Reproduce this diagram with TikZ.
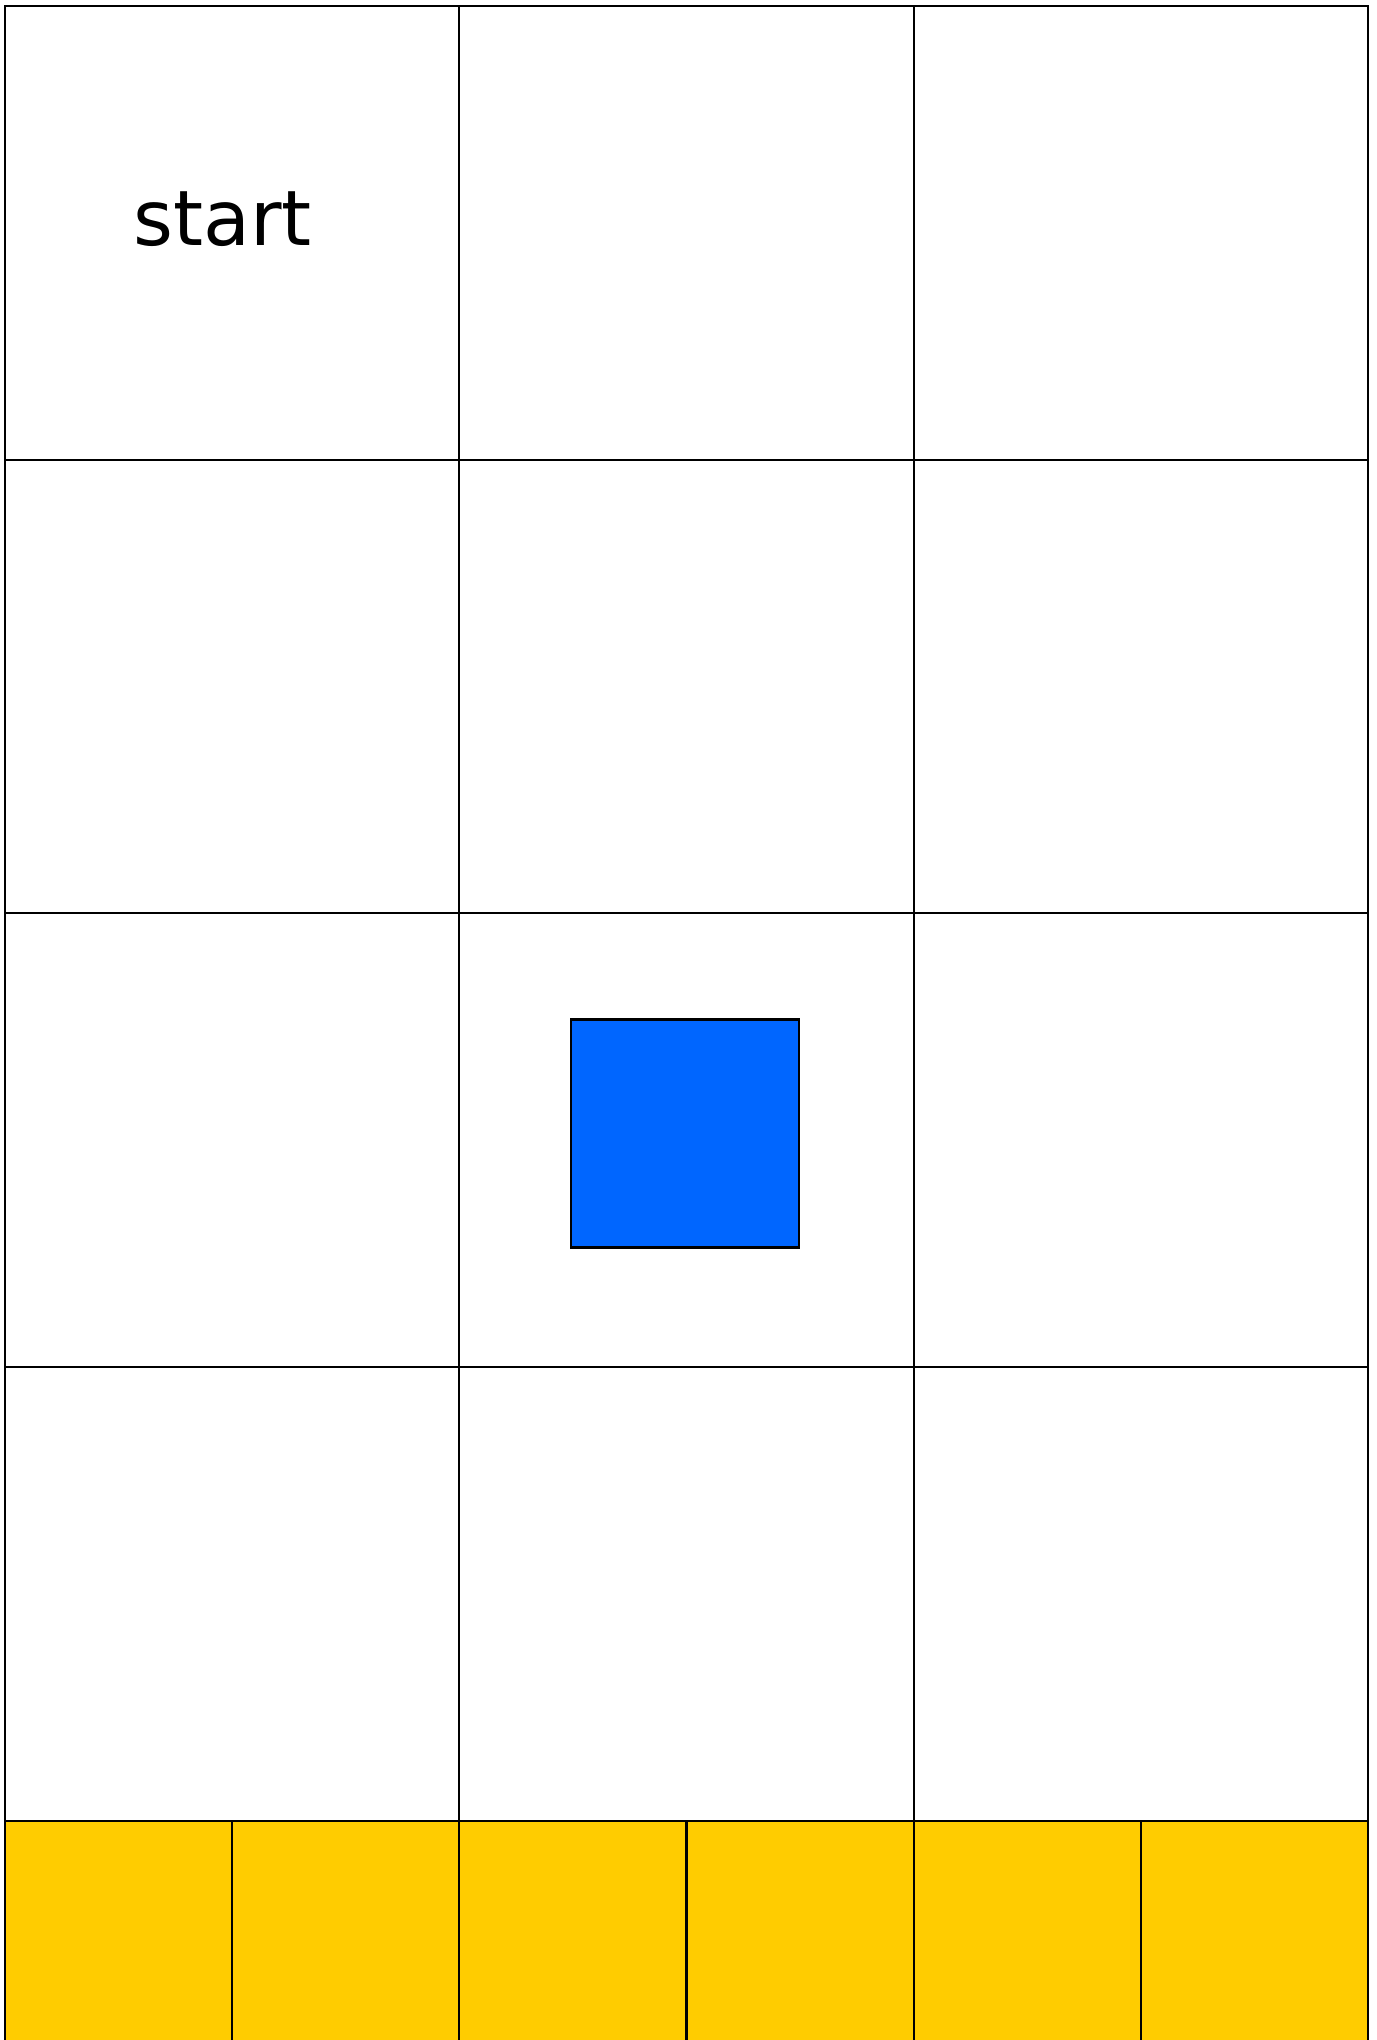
\documentclass[tikz,border=0pt]{standalone}
\usepackage{fontspec}
\setmainfont{DejaVu Sans}
\usetikzlibrary{positioning}
\definecolor{GridBlue}{HTML}{0066FF}
\definecolor{GridGold}{HTML}{FFCC00}
\begin{document}
\begin{tikzpicture}[
            cell/.style={draw=black,line width=0.6pt,inner sep=0pt,outer sep=0pt,
              minimum width=4.543cm,minimum height=4.537cm},
            floor/.style={cell,fill=GridGold,minimum width=2.2715cm},
            block/.style={draw=black,line width=0.6pt,fill=GridBlue,inner sep=0pt,
              minimum size=2.28cm}
          ]
          \useasboundingbox (0,0) rectangle (13.76,-20.40);
          \clip (0,0) rectangle (13.76,-20.40);
          \foreach \r in {0,...,3}{
            \foreach \c in {0,...,2}{
              \node[cell] (g\r\c) at ({0.05+4.543*(\c+0.5)},{-0.06-4.537*(\r+0.5)}) {};
            }
          }
          \foreach \c in {0,...,5}
            \node[floor] (f\c) at ({0.05+2.2715*(\c+0.5)},-20.4765) {};
          \node[block] (goal) at (6.85,-11.335) {};
          \node[anchor=base,font=\fontsize{21.8pt}{26pt}\selectfont] (start) at (2.225,-2.45) {start};
        \end{tikzpicture}
\end{document}
